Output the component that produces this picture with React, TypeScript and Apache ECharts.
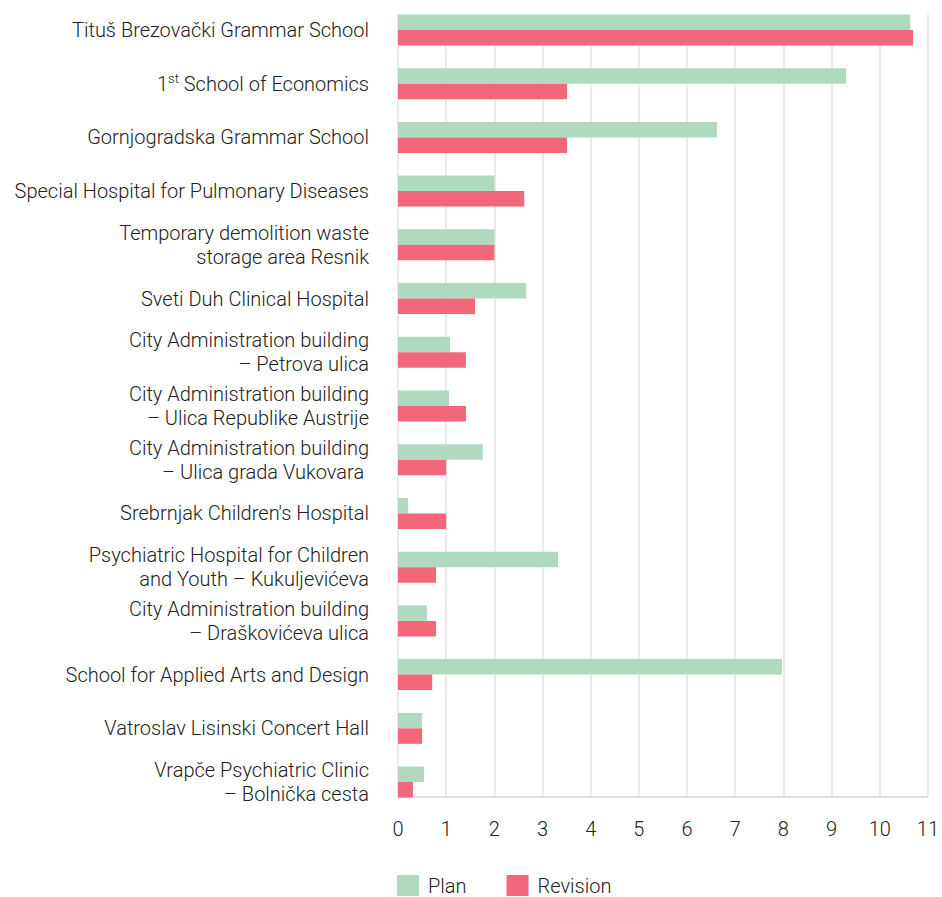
import React, { useEffect, useRef } from "react";
import * as echarts from "echarts";

const categories = [
  "Tituš Brezovački Grammar School",
  "1st School of Economics",
  "Gornjogradska Grammar School",
  "Special Hospital for Pulmonary Diseases",
  "Temporary demolition waste\nstorage area Resnik",
  "Sveti Duh Clinical Hospital",
  "City Administration building\n– Petrova ulica",
  "City Administration building\n– Ulica Republike Austrije",
  "City Administration building\n– Ulica grada Vukovara ",
  "Srebrnjak Children's Hospital",
  "Psychiatric Hospital for Children\nand Youth – Kukuljevićeva",
  "City Administration building\n– Draškovićeva ulica",
  "School for Applied Arts and Design",
  "Vatroslav Lisinski Concert Hall",
  "Vrapče Psychiatric Clinic\n– Bolnička cesta",
];

const planValues = [10.63, 9.3, 6.62, 2.0, 2.0, 2.66, 1.08, 1.06, 1.76, 0.21, 3.32, 0.6, 7.97, 0.5, 0.54];
const revisionValues = [10.69, 3.51, 3.51, 2.62, 2.0, 1.6, 1.41, 1.41, 1.0, 1.0, 0.79, 0.79, 0.71, 0.5, 0.31];

const xTicks = [0, 1, 2, 3, 4, 5, 6, 7, 8, 9, 10, 11];

const FONT = "Roboto";
const GREEN = "#afdac0";
const RED = "#f2687a";

export default function App() {
  const ref = useRef<HTMLDivElement>(null);
  useEffect(() => {
    document.body.style.margin = "0";
    if (!ref.current) return;
    const chart = echarts.init(ref.current, null, { renderer: "svg" });
    const left = 398;
    const right = 14;
    chart.setOption({
      animation: false,
      textStyle: { fontFamily: FONT },
      legend: {
        left: 397,
        top: 875,
        padding: 0,
        icon: "rect",
        itemWidth: 22,
        itemHeight: 21,
        itemGap: 40,
        textStyle: { fontFamily: FONT, fontSize: 20, fontWeight: 300, color: "#222", padding: [0, 0, 0, 4], lineHeight: 21 },
        data: ["Plan", "Revision"],
      },
      grid: [
        { left, right, top: 3.1, bottom: 88.1, containLabel: false },
        { left, right, top: 14, bottom: 100, containLabel: false },
      ],
      xAxis: [
        {
          type: "value",
          gridIndex: 0,
          min: 0,
          max: 11,
          interval: 1,
          show: false,
          splitLine: { show: false },
        },
        {
          type: "value",
          gridIndex: 1,
          min: 0,
          max: 11,
          interval: 1,
          axisLine: { show: true, lineStyle: { color: "#d6d6d6", width: 1.5 } },
          axisTick: { show: false },
          splitLine: { show: true, lineStyle: { color: "#e3e3e3", width: 1.5 } },
          axisLabel: {
            margin: 22,
            fontFamily: FONT,
            fontSize: 20,
            fontWeight: 300,
            color: "#222",
            formatter: (v: number) => (xTicks.includes(v) ? String(v) : ""),
          },
        },
      ],
      yAxis: [
        {
          type: "category",
          gridIndex: 0,
          inverse: true,
          data: categories,
          axisLine: { show: false },
          axisTick: { show: false },
          splitLine: { show: false },
          axisLabel: {
            margin: 29,
            fontFamily: FONT,
            fontSize: 20,
            fontWeight: 300,
            color: "#222",
            lineHeight: 24,
            align: "right",
            formatter: (v: string) =>
              v.startsWith("1st") ? "1{sup|st}" + v.slice(3) : v,
            rich: {
              sup: {
                fontFamily: FONT,
                fontSize: 13,
                fontWeight: 300,
                color: "#222",
                verticalAlign: "top",
                lineHeight: 24,
                padding: [0, 0, 10, 0],
              },
            },
          },
        },
        {
          type: "value",
          gridIndex: 1,
          min: 0,
          max: 1,
          show: false,
          splitLine: { show: false },
        },
      ],
      series: [
        {
          name: "Plan",
          type: "bar",
          xAxisIndex: 0,
          yAxisIndex: 0,
          data: planValues,
          barWidth: 15.5,
          barGap: "0%",
          itemStyle: { color: GREEN },
          z: 3,
        },
        {
          name: "Revision",
          type: "bar",
          xAxisIndex: 0,
          yAxisIndex: 0,
          data: revisionValues,
          barWidth: 15.5,
          barGap: "0%",
          itemStyle: { color: RED },
          z: 3,
        },
      ],
    });
    return () => chart.dispose();
  }, []);
  return <div ref={ref} style={{ width: 942, height: 897 }} />;
}
